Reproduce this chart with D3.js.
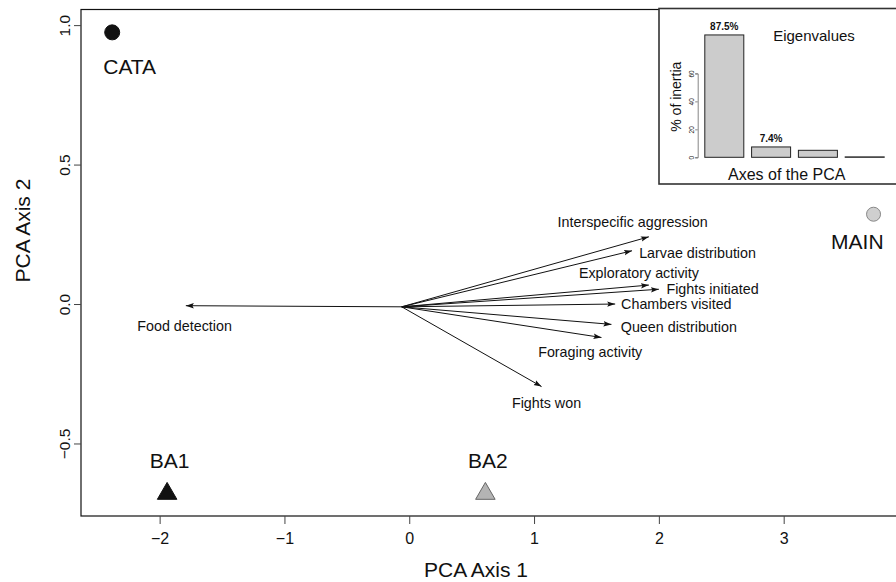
<!DOCTYPE html>
<html>
<head>
<meta charset="utf-8">
<script src="https://cdn.jsdelivr.net/npm/d3@7"></script>
<style>
  body { margin: 0; background: #fff; }
  text { font-family: "Liberation Sans", Arial, sans-serif; fill: #111; }
</style>
</head>
<body>
<div id="chart"></div>
<script>
// variable loadings (arrow tips) and where their labels sit, in PCA units
const varNames = ["Interspecific aggression", "Larvae distribution", "Exploratory activity",
  "Fights initiated", "Chambers visited", "Queen distribution", "Foraging activity",
  "Fights won", "Food detection"];
const varX = [1.92, 1.785, 1.92, 2.0, 1.65, 1.62, 1.54, 1.06, -1.79];
const varY = [0.241, 0.191, 0.068, 0.053, 0.0, -0.073, -0.12, -0.296, -0.006];
const varLabelX = [1.79, 2.31, 1.84, 2.43, 2.14, 2.16, 1.45, 1.10, -1.80];
const varLabelY = [0.294, 0.184, 0.111, 0.054, 0.0, -0.081, -0.171, -0.356, -0.079];
const arrowOrigin = [-0.06, -0.01];

// colony groups
const groups = ["CATA", "MAIN", "BA1", "BA2"];
const groupX = [-2.38, 3.72, -1.94, 0.61];
const groupY = [0.974, 0.322, -0.68, -0.68];
const groupLabelX = [-2.24, 3.59, -1.92, 0.63];
const groupLabelY = [0.852, 0.222, -0.561, -0.561];

const xTicks = [-2, -1, 0, 1, 2, 3];
const yTicks = [-0.5, 0, 0.5, 1.0];

// inset scree plot
const inertia = [87.5, 7.4, 5.0, 0.3];
const inertiaLabels = ["87.5%", "7.4%", "", ""];
const insetTicks = [0, 20, 40, 60];

const W = 896, H = 582;
const svg = d3.select("#chart").append("svg")
  .attr("width", W).attr("height", H);

const x = d3.scaleLinear().domain([-2.63, 3.9]).range([81, 896]);
const y = d3.scaleLinear().domain([-0.76, 1.056]).range([516, 9.5]);

// frame
svg.append("rect")
  .attr("x", 81).attr("y", 9.5).attr("width", 840).attr("height", 506.5)
  .attr("fill", "none").attr("stroke", "#111").attr("stroke-width", 1.2);

const xAxis = svg.append("g")
  .attr("transform", "translate(0,516)")
  .call(d3.axisBottom(x).tickValues(xTicks).tickSize(8).tickPadding(8.5).tickFormat(d3.format("d")));
xAxis.select(".domain").remove();
xAxis.selectAll("line").attr("stroke", "#444");
xAxis.selectAll("text").style("font-size", "16px")
  .style("font-family", "'Liberation Sans', Arial, sans-serif").attr("fill", "#111");

const yAxis = svg.append("g")
  .attr("transform", "translate(81,0)")
  .call(d3.axisLeft(y).tickValues(yTicks).tickSize(7).tickFormat(d3.format(".1f")));
yAxis.select(".domain").remove();
yAxis.selectAll("line").attr("stroke", "#444");
yAxis.selectAll("text")
  .attr("x", 0).attr("y", -11).attr("dy", 0)
  .attr("text-anchor", "middle")
  .attr("transform", "rotate(-90)")
  .style("font-size", "15.5px")
  .style("font-family", "'Liberation Sans', Arial, sans-serif").attr("fill", "#111");

svg.append("text")
  .attr("x", 476).attr("y", 577)
  .attr("text-anchor", "middle")
  .style("font-size", "21px")
  .text("PCA Axis 1");

svg.append("text")
  .attr("transform", "translate(30,230.6) rotate(-90)")
  .attr("text-anchor", "middle")
  .style("font-size", "21px")
  .text("PCA Axis 2");

// arrows
svg.append("defs").append("marker")
  .attr("id", "head")
  .attr("markerUnits", "userSpaceOnUse")
  .attr("markerWidth", 9).attr("markerHeight", 7)
  .attr("refX", 8).attr("refY", 3.5)
  .attr("orient", "auto")
  .append("path")
  .attr("d", "M0,0.8 L8,3.5 L0,6.2 L1.5,3.5 Z")
  .attr("fill", "#111");

const vars = varNames.map((name, i) => ({
  name, x: varX[i], y: varY[i], lx: varLabelX[i], ly: varLabelY[i]
}));

svg.append("g").selectAll("line")
  .data(vars)
  .enter()
  .append("line")
  .attr("x1", x(arrowOrigin[0])).attr("y1", y(arrowOrigin[1]))
  .attr("x2", d => x(d.x)).attr("y2", d => y(d.y))
  .attr("stroke", "#111").attr("stroke-width", 1)
  .attr("marker-end", "url(#head)");

svg.append("g").selectAll("text")
  .data(vars)
  .enter()
  .append("text")
  .attr("x", d => x(d.lx)).attr("y", d => y(d.ly))
  .attr("dy", "0.35em")
  .attr("text-anchor", "middle")
  .style("font-size", "14.3px")
  .text(d => d.name);

// group points
const shape = { CATA: "circle", MAIN: "circle", BA1: "triangle", BA2: "triangle" };
const fill = { CATA: "#111", MAIN: "#cfcfcf", BA1: "#111", BA2: "#b4b4b4" };
const stroke = { CATA: "#111", MAIN: "#888", BA1: "#111", BA2: "#666" };

const pts = groups.map((g, i) => ({
  g, x: groupX[i], y: groupY[i], lx: groupLabelX[i], ly: groupLabelY[i]
}));

const ptG = svg.append("g");
pts.forEach(d => {
  if (shape[d.g] === "circle") {
    ptG.append("circle")
      .attr("cx", x(d.x)).attr("cy", y(d.y))
      .attr("r", d.g === "CATA" ? 7.5 : 7)
      .attr("fill", fill[d.g]).attr("stroke", stroke[d.g]).attr("stroke-width", 1);
  } else {
    ptG.append("path")
      .attr("d", d3.symbol(d3.symbolTriangle, 165)())
      .attr("transform", `translate(${x(d.x)},${y(d.y)})`)
      .attr("fill", fill[d.g]).attr("stroke", stroke[d.g]).attr("stroke-width", 1);
  }
});

ptG.selectAll("text")
  .data(pts)
  .enter()
  .append("text")
  .attr("x", d => x(d.lx)).attr("y", d => y(d.ly))
  .attr("dy", "0.35em")
  .attr("text-anchor", "middle")
  .style("font-size", "21px")
  .text(d => d.g);

// inset
const inset = svg.append("g");
inset.append("rect")
  .attr("x", 659).attr("y", 8.5).attr("width", 260).attr("height", 175.5)
  .attr("fill", "#fff").attr("stroke", "#333").attr("stroke-width", 1.6);

const bx = d3.scaleBand().domain(d3.range(inertia.length))
  .range([697, 892]).paddingInner(0.1667).paddingOuter(0.1667);
const by = d3.scaleLinear().domain([0, 60]).range([157.3, 73.4]);

inset.selectAll("rect.bar")
  .data(inertia)
  .enter()
  .append("rect")
  .attr("class", "bar")
  .attr("x", (d, i) => bx(i)).attr("width", bx.bandwidth())
  .attr("y", d => by(d)).attr("height", d => by(0) - by(d))
  .attr("fill", "#cccccc").attr("stroke", "#222").attr("stroke-width", 1);

inset.selectAll("text.val")
  .data(inertia)
  .enter()
  .append("text")
  .attr("class", "val")
  .attr("x", (d, i) => bx(i) + bx.bandwidth() / 2)
  .attr("y", d => by(d) - 5)
  .attr("text-anchor", "middle")
  .style("font-size", "10px").style("font-weight", "bold")
  .text((d, i) => inertiaLabels[i]);

const iAxis = inset.append("g")
  .attr("transform", "translate(697.7,0)")
  .call(d3.axisLeft(by).tickValues(insetTicks).tickSize(2.5).tickPadding(1));
iAxis.select(".domain").attr("stroke", "#666").attr("stroke-width", 0.8);
iAxis.selectAll("line").attr("stroke", "#666").attr("stroke-width", 0.8);
iAxis.selectAll("text")
  .attr("x", 0).attr("y", -3.5).attr("dy", 0)
  .attr("text-anchor", "middle")
  .attr("transform", "rotate(-90)")
  .style("font-size", "6.5px")
  .style("font-family", "'Liberation Sans', Arial, sans-serif").attr("fill", "#777");

inset.append("text")
  .attr("x", 814).attr("y", 40.5)
  .attr("text-anchor", "middle")
  .style("font-size", "15px")
  .text("Eigenvalues");

inset.append("text")
  .attr("x", 786.7).attr("y", 179.5)
  .attr("text-anchor", "middle")
  .style("font-size", "16px")
  .text("Axes of the PCA");

inset.append("text")
  .attr("transform", "translate(681,96.7) rotate(-90)")
  .attr("text-anchor", "middle")
  .style("font-size", "14px")
  .text("% of inertia");
</script>
</body>
</html>
